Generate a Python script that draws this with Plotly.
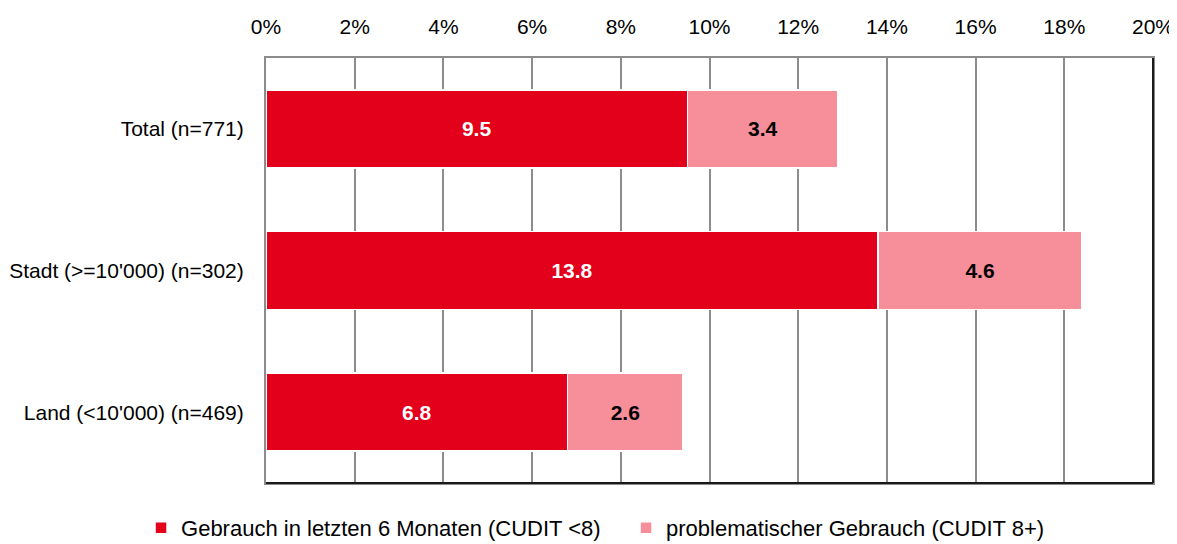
"""
Horizontal stacked bar chart: cannabis use by settlement type
"""

import plotly.graph_objects as go

categories = ["Total (n=771)", "Stadt (>=10'000) (n=302)", "Land (<10'000) (n=469)"]
use_6m = [9.5, 13.8, 6.8]
problematic = [3.4, 4.6, 2.6]
series_names = ["Gebrauch in letzten 6 Monaten (CUDIT <8)", "problematischer Gebrauch (CUDIT 8+)"]
tick_vals = [0, 2, 4, 6, 8, 10, 12, 14, 16, 18, 20]

FONT = "Liberation Sans Narrow, Arial Narrow, Liberation Sans, sans-serif"
RED = "#E2001A"
PINK = "#F78F9B"
FS = 21

fig = go.Figure()

fig.add_trace(
    go.Bar(
        y=categories,
        x=use_6m,
        name=series_names[0],
        orientation="h",
        legend="legend",
        marker=dict(color=RED, line=dict(color="white", width=1.5)),
        text=[f"{v:.1f}" for v in use_6m],
        textposition="inside",
        insidetextanchor="middle",
        textangle=0,
        constraintext="none",
        textfont=dict(family=FONT, size=FS, color="white", weight="bold"),
    )
)
fig.add_trace(
    go.Bar(
        y=categories,
        x=problematic,
        name=series_names[1],
        orientation="h",
        legend="legend2",
        marker=dict(color=PINK, line=dict(color="white", width=1.5)),
        text=[f"{v:.1f}" for v in problematic],
        textposition="inside",
        insidetextanchor="middle",
        textangle=0,
        constraintext="none",
        textfont=dict(family=FONT, size=FS, color="black", weight="bold"),
    )
)

# one legend per series so the gap between entries matches the original
legend_style = dict(
    orientation="h",
    xref="container",
    yref="container",
    xanchor="left",
    y=0.03,
    yanchor="middle",
    font=dict(family=FONT, size=22),
    itemwidth=30,
)

# page body has an 8px margin, so the figure is offset by 8px
fig.update_layout(
    barmode="stack",
    bargap=0.45,
    width=1169,
    height=536,
    margin=dict(l=258, r=24, t=50, b=61),
    paper_bgcolor="white",
    plot_bgcolor="white",
    font=dict(family=FONT, size=FS, color="black"),
    showlegend=True,
    legend=dict(x=0.1138, **legend_style),
    legend2=dict(x=0.5287, **legend_style),
)

fig.update_xaxes(
    side="top",
    range=[0, 20],
    tickvals=tick_vals,
    ticktext=[f"{v}%" for v in tick_vals],
    showgrid=True,
    gridcolor="#8c8c8c",
    gridwidth=2,
    showline=True,
    linecolor="#8c8c8c",
    linewidth=2,
    mirror=True,
    ticks="",
    ticklabelstandoff=14,
    ticklabeloverflow="allow",
    automargin=False,
    zeroline=False,
    fixedrange=True,
)
fig.update_yaxes(
    autorange="reversed",
    showline=True,
    linecolor="#8c8c8c",
    linewidth=2,
    mirror=True,
    ticks="",
    ticklabelstandoff=16,
    automargin=False,
    showgrid=False,
    fixedrange=True,
)

# darker bottom and right frame lines
fig.add_shape(type="line", xref="paper", yref="paper", x0=0, x1=1, y0=0, y1=0,
              line=dict(color="#1a1a1a", width=2))
fig.add_shape(type="line", xref="paper", yref="paper", x0=1, x1=1, y0=0, y1=1,
              line=dict(color="#1a1a1a", width=2))

fig.write_html("out.html")
